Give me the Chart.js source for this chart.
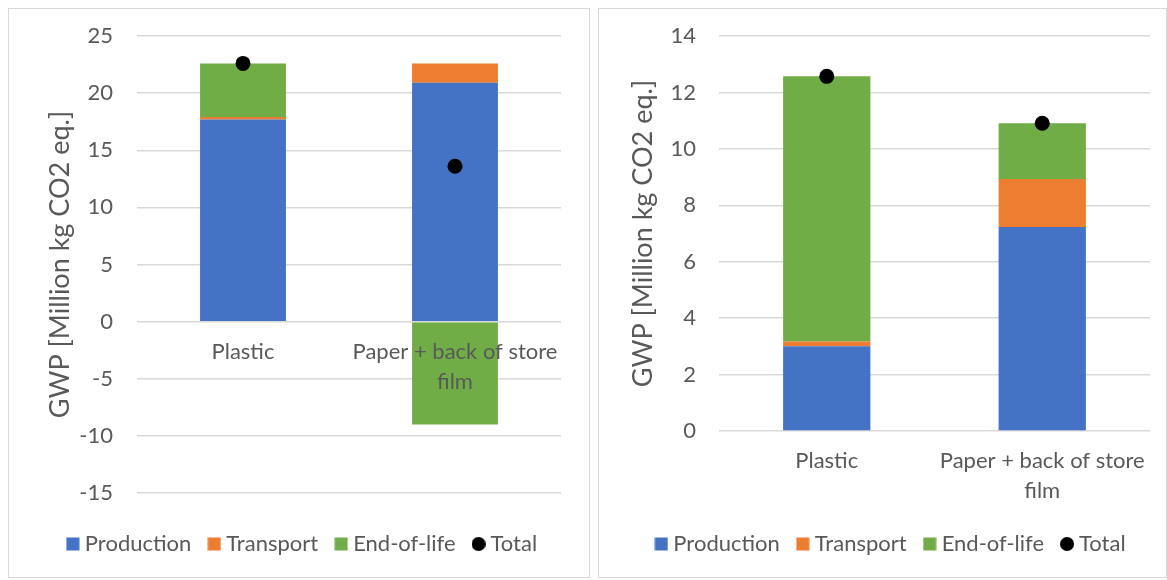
<!DOCTYPE html>
<html>
<head>
<meta charset="utf-8">
<script src="https://cdn.jsdelivr.net/npm/chart.js@4.4.1/dist/chart.umd.min.js"></script>
<style>
  html, body { margin: 0; padding: 0; background: #fff; }
  body { width: 1167px; height: 580px; position: relative; overflow: hidden; }
  .panel { position: absolute; top: 8px; height: 568px; border: 1px solid #d9d9d9; background: #fff; overflow: hidden; }
  #panelLeft { left: 8px; width: 580px; }
  #panelRight { left: 598px; width: 567px; }
  canvas { display: block; }
</style>
</head>
<body>
<div class="panel" id="panelLeft"><canvas id="gwpLeft" width="580" height="568"></canvas></div>
<div class="panel" id="panelRight"><canvas id="gwpRight" width="567" height="568"></canvas></div>
<script>
// categories + series names shared by both charts
const categories = ['Plastic', ['Paper + back of store', 'film']];
const seriesNames = ['Production', 'Transport', 'End-of-life', 'Total'];
const seriesColors = ['#4472C4', '#ED7D31', '#70AD47', '#000000'];

// left chart (million kg CO2 eq.)
const leftProduction = [17.7, 20.9];
const leftTransport = [0.2, 1.7];
const leftEndOfLife = [4.7, -9.0];
const leftTotal = [22.6, 13.6];
const leftYTicks = [-15, -10, -5, 0, 5, 10, 15, 20, 25];

// right chart
const rightProduction = [3.0, 7.23];
const rightTransport = [0.17, 1.70];
const rightEndOfLife = [9.4, 1.98];
const rightTotal = [12.57, 10.91];
const rightYTicks = [0, 2, 4, 6, 8, 10, 12, 14];

const FONT = 'Lato';
const FS = 22;
const TITLE_FS = 27;
const GREY = '#595959';
const LEGEND_PAD = 22;

// small marker images for the legend (squares for bars, dot for total)
function marker(color, round) {
  const c = document.createElement('canvas');
  c.width = 14; c.height = 14;
  const g = c.getContext('2d');
  g.fillStyle = color;
  if (round) {
    g.beginPath();
    g.arc(7, 7, 7, 0, Math.PI * 2);
    g.fill();
  } else {
    g.fillRect(0.5, 0.5, 13, 13);
  }
  return c;
}
const markers = seriesColors.map((c, i) => marker(c, i === 3));

function makeChart(id, values, yTicks, box) {
  const [production, transport, endOfLife, total] = values;
  const bar = (i, data) => ({
    label: seriesNames[i],
    data,
    backgroundColor: seriesColors[i],
    borderWidth: 0,
    barPercentage: 0.405,
    categoryPercentage: 1,
    order: 1
  });

  // legend row sits box.legendGap below the plot bottom
  const spacer = box.legendGap - LEGEND_PAD - FS / 2;
  const legendHeight = spacer + FS + LEGEND_PAD + 10;
  const bottomPad = 568 - box.plotBottom - legendHeight;

  return new Chart(document.getElementById(id), {
    type: 'bar',
    data: {
      labels: categories,
      datasets: [
        bar(0, production),
        bar(1, transport),
        bar(2, endOfLife),
        {
          type: 'line',
          label: seriesNames[3],
          data: total,
          showLine: false,
          pointRadius: 7.5,
          pointHoverRadius: 7.5,
          pointBorderWidth: 0,
          pointBackgroundColor: seriesColors[3],
          backgroundColor: seriesColors[3],
          borderColor: seriesColors[3],
          order: 0
        }
      ]
    },
    options: {
      responsive: false,
      animation: false,
      events: [],
      layout: {
        padding: { left: box.left, right: box.right, top: box.top, bottom: bottomPad }
      },
      scales: {
        x: {
          type: 'category',
          stacked: true,
          position: { y: 0 },
          grid: { display: false, drawTicks: false },
          border: { display: false },
          ticks: {
            z: 1, // category labels sit on top of the negative bar
            color: GREY,
            padding: 15,
            font: { family: FONT, size: FS, lineHeight: 30 / FS }
          }
        },
        y: {
          stacked: true,
          min: yTicks[0],
          max: yTicks[yTicks.length - 1],
          afterFit(scale) { scale.width = box.axisWidth; },
          // invisible tick marks give the gap between labels and gridlines
          grid: { color: '#d9d9d9', lineWidth: 1.5, tickLength: box.tickGap, tickColor: 'rgba(0,0,0,0)' },
          border: { display: false },
          ticks: {
            stepSize: yTicks[1] - yTicks[0],
            color: GREY,
            padding: 0,
            font: { family: FONT, size: FS }
          },
          title: {
            display: true,
            text: 'GWP [Million kg CO2 eq.]',
            color: GREY,
            padding: 0,
            font: { family: FONT, size: TITLE_FS, lineHeight: box.titleOffset * 2 / TITLE_FS }
          }
        }
      },
      plugins: {
        tooltip: { enabled: false },
        legend: {
          position: 'bottom',
          title: { display: true, text: '', padding: 0, font: { size: 10, lineHeight: spacer / 10 } },
          labels: {
            color: GREY,
            font: { family: FONT, size: FS },
            usePointStyle: true,
            boxWidth: 2,
            boxHeight: 14,
            padding: LEGEND_PAD,
            sort: (a, b) => a.datasetIndex - b.datasetIndex,
            generateLabels(chart) {
              const items = Chart.defaults.plugins.legend.labels.generateLabels(chart);
              items.forEach(item => {
                item.pointStyle = markers[item.datasetIndex];
                item.lineWidth = 0;
              });
              return items;
            }
          }
        }
      }
    }
  });
}

makeChart('gwpLeft', [leftProduction, leftTransport, leftEndOfLife, leftTotal], leftYTicks, {
  left: 39, right: 28, top: 27, axisWidth: 89, tickGap: 24, titleOffset: 12,
  plotBottom: 484, legendGap: 51
});

makeChart('gwpRight', [rightProduction, rightTransport, rightEndOfLife, rightTotal], rightYTicks, {
  left: 37, right: 16, top: 27, axisWidth: 83, tickGap: 23, titleOffset: 7.5,
  plotBottom: 422, legendGap: 113
});
</script>
</body>
</html>
